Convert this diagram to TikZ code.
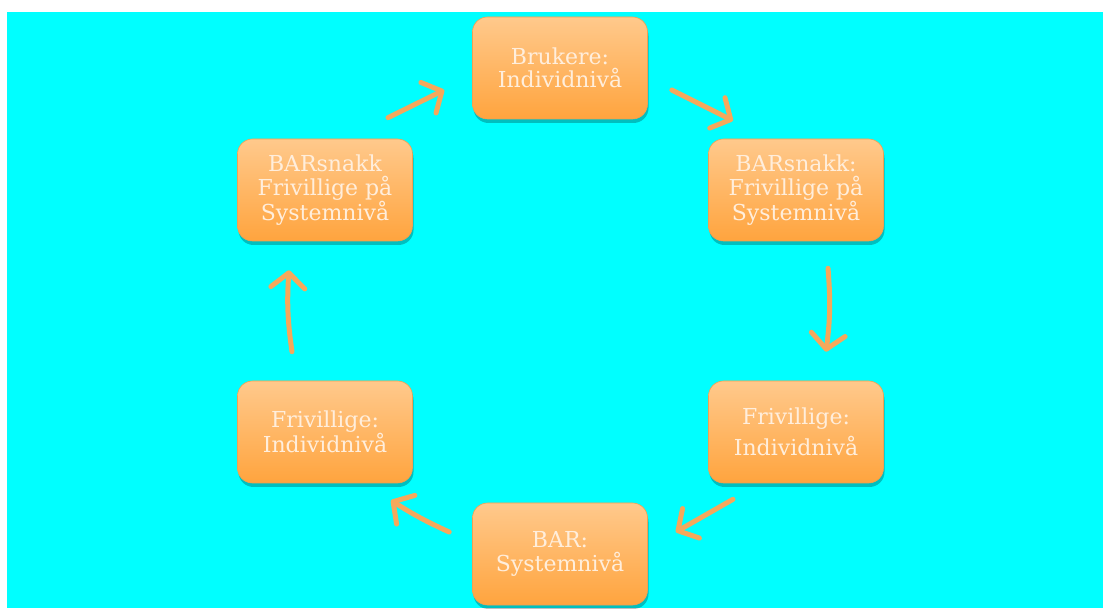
\documentclass[tikz,border=0pt]{standalone}
\usepackage{fontspec}
\setmainfont{DejaVu Serif}
\usetikzlibrary{arrows.meta,shadows}
\definecolor{bgcyan}{HTML}{00FFFF}
\definecolor{boxtop}{HTML}{FFC98C}
\definecolor{boxbot}{HTML}{FFA43E}
\definecolor{boxline}{HTML}{F2A050}
\definecolor{arrowor}{HTML}{F5A85C}
\definecolor{txtcream}{HTML}{FFEEDC}
\begin{document}
\begin{tikzpicture}[x=1pt, y=1pt, line join = round, line cap = round,
	stage/.style={rounded corners=15pt, minimum width=175pt, minimum height=102pt, inner sep=0pt,
		top color=boxtop, bottom color=boxbot, draw=boxline, line width=0.6pt,
		drop shadow={shadow xshift=1pt, shadow yshift=-4pt, fill=black, opacity=.25},
		text=txtcream, align=center, font=\fontsize{22}{23.5}\selectfont},
	flow/.style={draw=arrowor, line width=5pt, -{Straight Barb[length=15pt, width=34pt, round]}}]
			%\tikzset{label style/.style={font=\footnotesize}}
			\useasboundingbox (0,0) rectangle (1103,608);
			\fill[bgcyan] (7,0) rectangle (1103,596);
			% the six stages
			\node[stage] (brk)  at (560,540) {Brukere:\\Individnivå};
			\node[stage] (bsnR) at (796,418) {BARsnakk:\\Frivillige på\\Systemnivå};
			\node[stage] (friR) at (796,176) {Frivillige:\\[6pt]Individnivå};
			\node[stage] (bar)  at (560,54)  {BAR:\\Systemnivå};
			\node[stage] (friL) at (325,176) {Frivillige:\\Individnivå};
			\node[stage] (bsnL) at (325,418) {BARsnakk\\Frivillige på\\Systemnivå};
			% arrows round the circle
			\draw[flow] ([shift={(63,21)}]bsnL.north) -- ([shift={(-28,-22)}]brk.west);
			\draw[flow] ([shift={(24,-22)}]brk.east) -- ([shift={(-63,18)}]bsnR.north);
			\draw[flow] ([shift={(32,-27)}]bsnR.south) to[bend left=6] ([shift={(30,29)}]friR.north);
			\draw[flow] ([shift={(-63,-16)}]friR.south) -- ([shift={(28,22)}]bar.east);
			\draw[flow] ([shift={(-23,22)}]bar.west) to[bend left=4] ([shift={(66,-17)}]friL.south);
			\draw[flow] ([shift={(-33,29)}]friL.north) to[bend left=6] ([shift={(-36,-29)}]bsnL.south);
		\end{tikzpicture}
\end{document}
